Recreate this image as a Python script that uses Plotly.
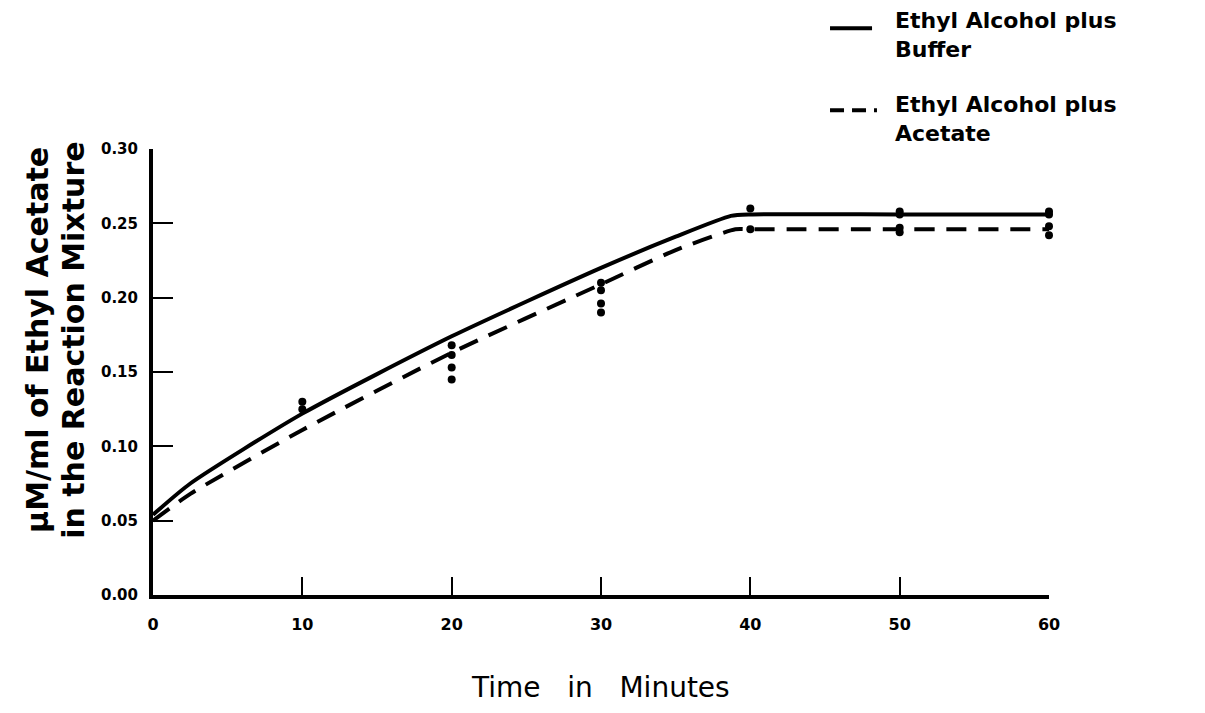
import plotly.graph_objects as go

# Smooth curves
buffer_x = [0, 2.5, 10, 20, 30, 35, 38.7, 40, 50, 60]
buffer_y = [0.054, 0.075, 0.122, 0.174, 0.220, 0.241, 0.255, 0.256, 0.256, 0.256]
acetate_x = [0, 2.5, 10, 20, 30, 35, 39, 40, 50, 60]
acetate_y = [0.050, 0.068, 0.111, 0.163, 0.209, 0.232, 0.246, 0.246, 0.246, 0.246]

# Observed points (dots)
obs_x = [10, 10, 20, 20, 20, 20, 30, 30, 30, 30, 40, 40, 50, 50, 50, 50, 60, 60, 60, 60]
obs_y = [0.130, 0.125, 0.168, 0.1615, 0.153, 0.145, 0.210, 0.205, 0.196, 0.190,
         0.260, 0.246, 0.258, 0.256, 0.247, 0.244, 0.258, 0.256, 0.248, 0.242]

x_ticks = [0, 10, 20, 30, 40, 50, 60]
y_ticks = [0.00, 0.05, 0.10, 0.15, 0.20, 0.25, 0.30]
y_tick_labels = ["0.00", "0.05", "0.10", "0.15", "0.20", "0.25", "0.30"]

legend_names = ["Ethyl Alcohol plus<br>Buffer", "Ethyl Alcohol plus<br>Acetate"]
y_title_lines = ["µM/ml of Ethyl Acetate", "in the Reaction Mixture"]
x_title = "Time   in   Minutes"

FONT = "DejaVu Sans"

fig = go.Figure()
fig.add_trace(go.Scatter(
    x=buffer_x, y=buffer_y, mode="lines",
    line=dict(color="black", width=4, shape="spline", smoothing=0.6),
    name="Ethyl Alcohol plus Buffer", showlegend=False, cliponaxis=False))
fig.add_trace(go.Scatter(
    x=acetate_x, y=acetate_y, mode="lines",
    line=dict(color="black", width=4, dash="20px,12px", shape="spline", smoothing=0.6),
    name="Ethyl Alcohol plus Acetate", showlegend=False, cliponaxis=False))
fig.add_trace(go.Scatter(
    x=obs_x, y=obs_y, mode="markers", marker=dict(color="black", size=8),
    showlegend=False, cliponaxis=False))

# page body has an 8px margin: figure is sized so the plot area lands where the reference has it
fig.update_layout(
    width=1189, height=697,
    paper_bgcolor="white", plot_bgcolor="white",
    margin=dict(l=145, r=148, t=141, b=110),
    font=dict(family=FONT, color="black"),
    showlegend=False,
    xaxis=dict(range=[0, 60], tickmode="array", tickvals=x_ticks, automargin=False,
               showgrid=False, zeroline=False, showline=True, linecolor="black", linewidth=4,
               ticks="inside", ticklen=18, tickwidth=2, tickcolor="black", ticklabelstandoff=12,
               tickfont=dict(size=16, family=FONT, weight="bold"), fixedrange=True),
    yaxis=dict(range=[0, 0.30], tickmode="array", tickvals=y_ticks, ticktext=y_tick_labels,
               automargin=False,
               showgrid=False, zeroline=False, showline=True, linecolor="black", linewidth=4,
               ticks="inside", ticklen=20, tickwidth=2, tickcolor="black", ticklabelstandoff=8,
               tickfont=dict(size=15, family=FONT, weight="bold"), fixedrange=True),
)

# Legend drawn in paper coordinates
fig.add_shape(type="line", xref="paper", yref="paper", x0=0.7556, x1=0.8025, y0=1.271, y1=1.271,
              line=dict(color="black", width=4))
fig.add_shape(type="line", xref="paper", yref="paper", x0=0.7556, x1=0.8080, y0=1.087, y1=1.087,
              line=dict(color="black", width=4, dash="14px,8px"))
for txt, yy in zip(legend_names, [1.256, 1.067]):
    fig.add_annotation(text=txt, xref="paper", yref="paper", x=0.826, y=yy,
                       xanchor="left", yanchor="middle", align="left", showarrow=False,
                       font=dict(size=22, family=FONT, weight="bold"))

for txt, xx in zip(y_title_lines, [-0.1283, -0.0882]):
    fig.add_annotation(
        text=txt, xref="paper", yref="paper", x=xx, y=0.572, xanchor="center", yanchor="middle",
        textangle=-90, showarrow=False,
        font=dict(size=30, family=FONT, weight="bold"))

fig.add_annotation(
    text=x_title, xref="paper", yref="paper", x=0.499, y=-0.2085,
    xanchor="center", yanchor="middle", showarrow=False,
    font=dict(size=28, family=FONT))

fig.write_html("out.html")
